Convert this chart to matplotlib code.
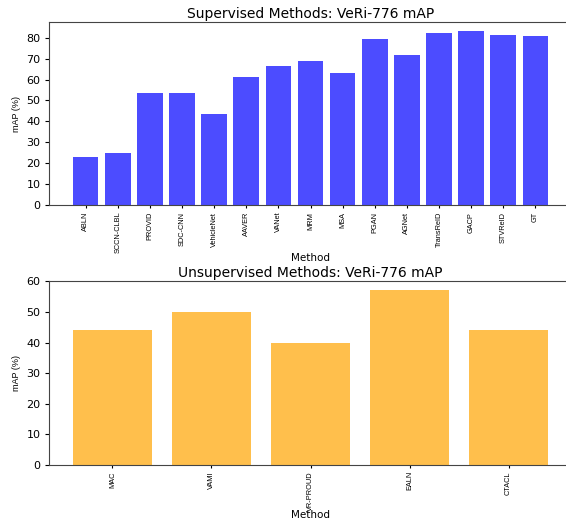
import matplotlib
matplotlib.use("Agg")
import matplotlib.pyplot as plt
from matplotlib.ticker import MultipleLocator

sup_methods = ["ABLN", "SCCN-CLBL", "PROVID", "SDC-CNN", "VehicleNet", "AAVER",
               "VANet", "MRM", "MSA", "PGAN", "AGNet", "TransReID", "GACP",
               "STVReID", "GT"]
sup_map = [23.1, 25.0, 53.4, 53.4, 43.4, 61.1, 66.3, 68.6, 63.0, 79.4, 71.8,
           82.2, 83.2, 81.2, 80.5]

unsup_methods = ["MAC", "VAMI", "VR-PROUD", "EALN", "CTACL"]
unsup_map = [44.2, 50.1, 39.8, 57.3, 44.0]

small = ["Liberation Sans", "DejaVu Sans"]

fig = plt.figure(figsize=(5.66, 5.20), dpi=100)
ax1 = fig.add_axes([0.0866, 0.605, 0.924, 0.3525])
ax2 = fig.add_axes([0.0866, 0.1058, 0.924, 0.354])

def draw(ax, names, vals, color, title, label_y):
    ax.bar(names, vals, color=color, alpha=0.7)
    ax.set_title(title, fontsize=10, pad=3)
    ax.set_xlabel("Method", fontsize=7.5)
    ax.xaxis.set_label_coords(0.5, label_y)
    ax.set_ylabel("mAP (%)", fontsize=6.5, family=small)
    ax.yaxis.set_major_locator(MultipleLocator(10))
    ax.tick_params(axis="y", labelsize=8, length=3, pad=3)
    ax.tick_params(axis="x", length=2.5, pad=2)
    for lbl in ax.get_xticklabels():
        lbl.set_rotation(90)
        lbl.set_fontsize(5.3)
        lbl.set_family(small)
    for sp in ax.spines.values():
        sp.set_color("#444444")

draw(ax1, sup_methods, sup_map, "blue", "Supervised Methods: VeRi-776 mAP", -0.26)
draw(ax2, unsup_methods, unsup_map, "orange", "Unsupervised Methods: VeRi-776 mAP", -0.245)

fig.savefig("out.png", dpi=100)
